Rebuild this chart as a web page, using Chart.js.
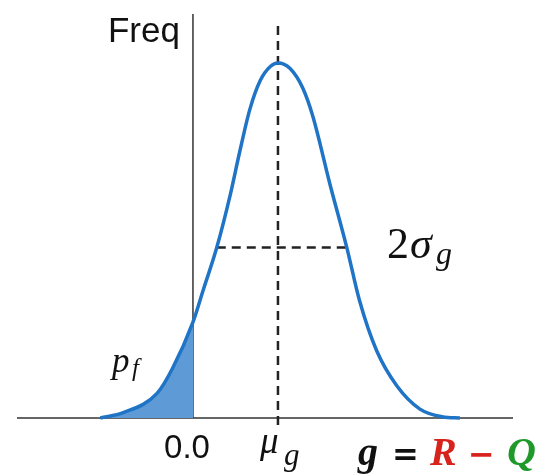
<!DOCTYPE html>
<html>
<head>
<meta charset="utf-8">
<script src="https://cdn.jsdelivr.net/npm/chart.js@4"></script>
<style>
  body { margin: 0; background: #fff; }
  #wrap { width: 535px; height: 475px; }
</style>
</head>
<body>
<div id="wrap"><canvas id="dist__chart" width="535" height="475"></canvas></div>
<script>
// curve of g = R - Q (x: 0 at the Freq axis, 1 at mu_g; y: peak = 1)
var curveX = [-1.09, -0.82, -0.42, -0.24, 0.00, 0.12, 0.28, 0.44, 0.55, 0.67, 0.79, 0.91, 1.00,
              1.14, 1.29, 1.41, 1.61, 1.81, 1.96, 2.16, 2.40, 2.67, 2.94, 3.14];
var curveY = [0.00, 0.015, 0.07, 0.14, 0.27, 0.36, 0.48, 0.63, 0.75, 0.87, 0.95, 0.99, 1.00,
              0.985, 0.93, 0.85, 0.66, 0.48, 0.33, 0.19, 0.09, 0.025, 0.003, 0.00];
var meanG = 1.0;
var halfLevel = 0.48;
var sigmaLeft = 0.28, sigmaRight = 1.81;
var failLimit = 0.0;
var xRange = [-2.07, 3.765];
var yRange = [-0.031, 1.138];

var curvePts = curveX.map(function (x, i) { return {x: x, y: curveY[i]}; });

var serif = '"Liberation Serif", "Times New Roman", serif';
var sans = '"Liberation Sans", Arial, sans-serif';
var dvs = '"DejaVu Sans", sans-serif';

// text labels: anchored at data coords, pieces offset in px from that anchor
var labels = [
  {x: -0.153, y: 1.059, align: 'right', runs: [{t: 'Freq', f: '35px ' + sans, c: '#111'}]},
  {x: -0.07, y: -0.113, align: 'center', runs: [{t: '0.0', f: '33px ' + sans, c: '#111'}]},
  {x: meanG - 0.212, y: -0.099, runs: [
    {t: '\u03bc', f: 'italic 37px ' + serif, c: '#111', dx: 0},
    {t: 'g', f: 'italic 31px ' + serif, c: '#111', dx: 24, dy: 12}]},
  {x: 1.941, y: -0.1324, runs: [
    {t: 'g', f: 'bold italic 40px ' + serif, c: '#111', dx: 0},
    {t: '=', f: 'bold 32px ' + dvs, c: '#111', dx: 34},
    {t: 'R', f: 'bold italic 40px ' + serif, c: '#d8231c', dx: 72},
    {t: '\u2212', f: 'bold 32px ' + dvs, c: '#d8231c', dx: 110},
    {t: 'Q', f: 'bold italic 40px ' + serif, c: '#1f9a2a', dx: 149}]},
  {x: 2.282, y: 0.451, runs: [
    {t: '2', f: '44px ' + serif, c: '#111', dx: 0},
    {t: '\u03c3', f: 'italic 44px ' + serif, c: '#111', dx: 23},
    {t: 'g', f: 'italic 32px ' + serif, c: '#111', dx: 49, dy: 6}]},
  {x: -0.953, y: 0.13, runs: [
    {t: 'p', f: 'italic 35px ' + serif, c: '#111', dx: 0},
    {t: 'f', f: 'italic 25px ' + serif, c: '#111', dx: 20, dy: 4}]}
];

var textPlugin = {
  id: 'mathText',
  afterDatasetsDraw: function (chart) {
    var ctx = chart.ctx;
    var sx = chart.scales.x, sy = chart.scales.y;
    ctx.save();
    ctx.textBaseline = 'alphabetic';
    labels.forEach(function (l) {
      var px = sx.getPixelForValue(l.x), py = sy.getPixelForValue(l.y);
      l.runs.forEach(function (r) {
        ctx.font = r.f;
        ctx.fillStyle = r.c;
        ctx.textAlign = l.align || 'left';
        ctx.fillText(r.t, px + (r.dx || 0), py + (r.dy || 0));
      });
    });
    ctx.restore();
  }
};

// fill under the curve only left of g = 0 (p_f)
function failFill(context) {
  var chart = context.chart;
  var area = chart.chartArea;
  if (!area) return 'rgba(0,0,0,0)';
  var cut = chart.scales.x.getPixelForValue(failLimit);
  var t = (cut - area.left) / (area.right - area.left);
  var g = chart.ctx.createLinearGradient(area.left, 0, area.right, 0);
  g.addColorStop(0, '#5e9bd6');
  g.addColorStop(t, '#5e9bd6');
  g.addColorStop(Math.min(1, t + 0.0005), 'rgba(94,155,214,0)');
  g.addColorStop(1, 'rgba(94,155,214,0)');
  return g;
}

var dash = [9, 6];
var ctx = document.getElementById('dist__chart').getContext('2d');
var distChart = new Chart(ctx, {
  type: 'scatter',
  data: {
    datasets: [
      {data: curvePts, showLine: true, borderColor: '#1f74c6', borderWidth: 3.5,
       cubicInterpolationMode: 'monotone', pointRadius: 0,
       fill: 'origin', backgroundColor: failFill, order: 1},
      {data: [{x: xRange[0], y: 0}, {x: xRange[1], y: 0}], showLine: true,
       borderColor: '#333', borderWidth: 1.5, pointRadius: 0, order: 3},
      {data: [{x: 0, y: 0}, {x: 0, y: yRange[1]}], showLine: true,
       borderColor: '#333', borderWidth: 1.5, pointRadius: 0, order: 3},
      {data: [{x: meanG, y: -0.02}, {x: meanG, y: 1.115}], showLine: true, borderDash: dash,
       borderColor: '#222', borderWidth: 2.5, pointRadius: 0, order: 2},
      {data: [{x: sigmaLeft, y: halfLevel}, {x: sigmaRight, y: halfLevel}], showLine: true,
       borderDash: dash, borderColor: '#222', borderWidth: 2.5, pointRadius: 0, order: 2}
    ]
  },
  options: {
    responsive: false,
    animation: false,
    layout: {padding: {left: 17, right: 22, top: 14, bottom: 46}},
    plugins: {legend: {display: false}, tooltip: {enabled: false}},
    scales: {
      x: {type: 'linear', display: false, min: xRange[0], max: xRange[1]},
      y: {type: 'linear', display: false, min: yRange[0], max: yRange[1]}
    }
  },
  plugins: [textPlugin]
});
</script>
</body>
</html>
